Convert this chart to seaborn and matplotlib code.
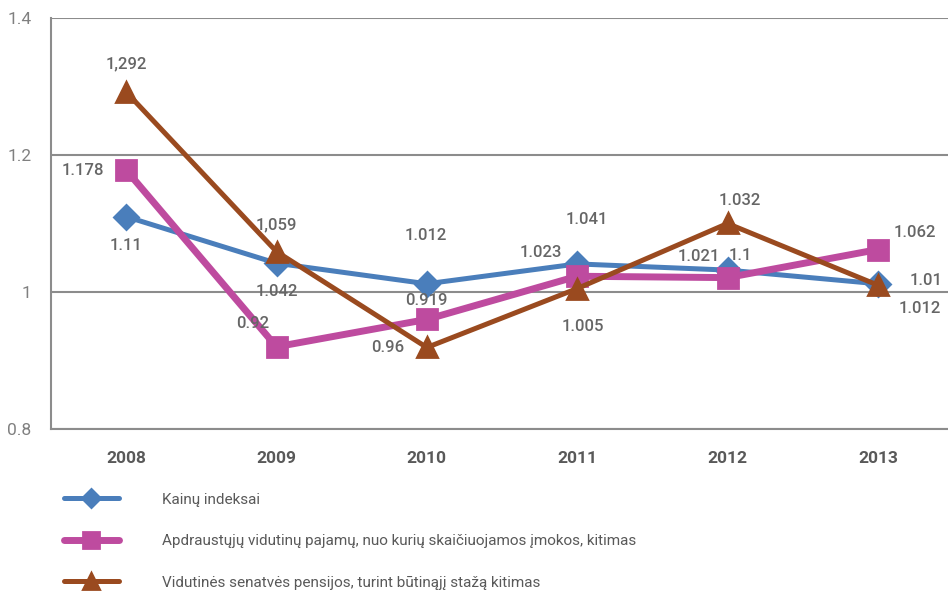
import numpy as np
import pandas as pd
import matplotlib
matplotlib.use("Agg")
import matplotlib.pyplot as plt
import seaborn as sns

years = ["2008", "2009", "2010", "2011", "2012", "2013"]

series_names = [
    "Kainų indeksai",
    "Apdraustųjų vidutinų pajamų, nuo kurių skaičiuojamos įmokos, kitimas",
    "Vidutinės senatvės pensijos, turint būtinąjį stažą kitimas",
]
kainu = [1.11, 1.042, 1.012, 1.041, 1.032, 1.012]
pajamu = [1.178, 0.92, 0.96, 1.023, 1.021, 1.062]
pensijos = [1.292, 1.059, 0.919, 1.005, 1.1, 1.01]

# label texts as printed on the chart
kainu_lbl = ["1.11", "1.042", "1.012", "1.041", "1.032", "1.012"]
pajamu_lbl = ["1.178", "0.92", "0.96", "1.023", "1.021", "1.062"]
pensijos_lbl = ["1,292", "1,059", "0.919", "1.005", "1.1", "1.01"]

# label offsets (points) relative to each marker
kainu_off = [(0, -21), (0, -20), (-1, 35), (7, 32), (9, 50), (30, -18)]
pajamu_off = [(-31, 0), (-17, 17), (-28, -20), (-26, 17), (-21, 15), (27, 12)]
pensijos_off = [(0, 20), (0, 19), (0, 34), (4, -27), (9, -23), (35, 3)]

colors = ["#4A7EBB", "#BE4B9F", "#9A4A1F"]
markers = ["D", "s", "^"]
msizes = [12, 15, 15]
lwidths = [3.6, 5.0, 3.6]

sns.set_theme(style="white")
plt.rcParams["font.family"] = ["Roboto", "DejaVu Sans"]

fig = plt.figure(figsize=(9.48, 5.91), dpi=100)
ax = fig.add_axes([51 / 948, 162 / 591, 902 / 948, 411 / 591])

x = np.arange(len(years))
all_vals = [kainu, pajamu, pensijos]
all_lbls = [kainu_lbl, pajamu_lbl, pensijos_lbl]
all_offs = [kainu_off, pajamu_off, pensijos_off]

for name, vals, c, m, ms, lw in zip(series_names, all_vals, colors, markers, msizes, lwidths):
    df = pd.DataFrame({"x": x, "y": vals})
    sns.lineplot(data=df, x="x", y="y", ax=ax, color=c, lw=lw, marker=m,
                 markersize=ms, markeredgecolor=c, markeredgewidth=2,
                 label=name, solid_capstyle="round", solid_joinstyle="round",
                 zorder=3)

for vals, lbls, offs in zip(all_vals, all_lbls, all_offs):
    for xi, v, t, o in zip(x, vals, lbls, offs):
        ax.annotate(t, (xi, v), xytext=o, textcoords="offset points",
                    ha="center", va="center", fontsize=12, color="#666666",
                    fontweight="medium", zorder=5)

ax.set_xlim(-0.5, 5.5)
ax.set_ylim(0.8, 1.4)
ax.set_yticks([0.8, 1.0, 1.2, 1.4])
ax.set_yticklabels(["0.8", "1", "1.2", "1.4"])
ax.set_xticks(x)
ax.set_xticklabels(years)
ax.set_xlabel("")
ax.set_ylabel("")
ax.yaxis.grid(True, color="#8C8C8C", lw=1.5)
ax.set_axisbelow(True)
for s in ["top", "right"]:
    ax.spines[s].set_visible(False)
for s in ["left", "bottom"]:
    ax.spines[s].set_color("#8C8C8C")
    ax.spines[s].set_linewidth(1.5)

ax.tick_params(axis="y", length=0, pad=14, labelsize=12.5, labelcolor="#808080")
ax.tick_params(axis="x", length=0, pad=16, labelsize=12.5, labelcolor="#595959")
for lab in ax.get_xticklabels():
    lab.set_fontweight("bold")

leg = ax.legend(loc="upper left", bbox_to_anchor=(50 / 948, (591 - 479) / 591),
                bbox_transform=fig.transFigure, frameon=False,
                handlelength=3.6, handletextpad=2.8, labelspacing=1.8,
                numpoints=1, markerscale=0.75,
                prop={"family": ["Roboto", "DejaVu Sans"], "size": 11})
for t in leg.get_texts():
    t.set_color("#595959")

fig.savefig("out.png", dpi=100)
